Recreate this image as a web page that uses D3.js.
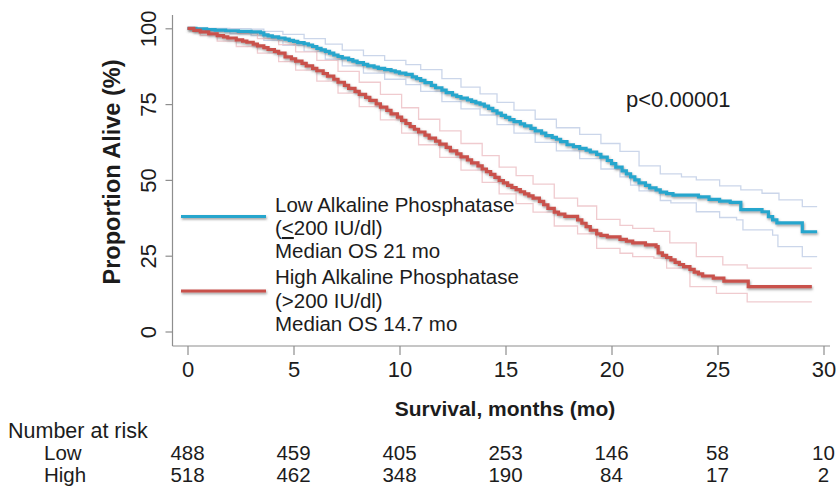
<!DOCTYPE html>
<html>
<head>
<meta charset="utf-8">
<script src="https://cdn.jsdelivr.net/npm/d3@7"></script>
<style>
    body { margin: 0; background: #fff; }
    svg { display: block; font-family: "Liberation Sans", Arial, sans-serif; }
</style>
</head>
<body>
<svg id="chart" width="840" height="492"></svg>
<script>
// Kaplan-Meier estimates (months, % alive)
const lowTime = [0, 0.4, 0.9, 1.3, 1.8, 2.4, 3.0, 3.45, 3.6, 3.8, 4.0, 4.3, 4.6, 4.8, 5.0, 5.2, 5.5, 5.7, 5.9, 6.1, 6.3, 6.5, 6.7, 6.9, 7.1, 7.3, 7.6, 7.8, 8.0, 8.3, 8.5, 8.8, 9.0, 9.3, 9.6, 9.8, 10.0, 10.3, 10.6, 10.8, 11.0, 11.2, 11.5, 11.7, 12.0, 12.2, 12.5, 12.7, 12.9, 13.2, 13.4, 13.6, 13.8, 14.0, 14.2, 14.4, 14.6, 14.8, 15.0, 15.2, 15.4, 15.7, 15.9, 16.2, 16.4, 16.7, 16.9, 17.2, 17.4, 17.6, 17.9, 18.2, 18.5, 18.8, 19.0, 19.3, 19.5, 19.8, 20.0, 20.2, 20.5, 20.7, 20.9, 21.1, 21.3, 21.6, 21.8, 22.1, 22.3, 22.6, 22.9, 24.1, 24.6, 25.1, 25.6, 26.1, 27.1, 27.4, 27.6, 27.8, 29.0, 29.7];
const lowSurv = [100, 99.8, 99.6, 99.4, 99.2, 99.0, 98.8, 98.5, 97.8, 97.5, 97.2, 96.8, 96.4, 96.0, 95.7, 95.3, 94.9, 94.5, 94.0, 93.4, 92.9, 92.4, 91.8, 91.2, 90.7, 90.2, 89.7, 89.2, 88.7, 88.1, 87.6, 87.2, 86.8, 86.4, 86.0, 85.6, 85.2, 84.8, 84.0, 83.4, 82.8, 82.1, 81.2, 80.4, 79.6, 78.8, 78.0, 77.5, 77.0, 76.4, 75.9, 75.4, 75.0, 74.3, 73.6, 72.8, 72.0, 71.3, 70.6, 69.9, 69.2, 68.5, 67.8, 67.0, 66.2, 65.4, 64.6, 64.0, 63.4, 62.6, 61.6, 61.0, 60.4, 59.8, 59.2, 58.4, 57.5, 56.4, 55.4, 54.2, 53.0, 52.0, 51.0, 50.0, 49.0, 48.2, 47.4, 46.7, 46.0, 45.5, 45.0, 44.4, 43.6, 43.0, 42.6, 40.2, 39.5, 37.9, 36.8, 35.8, 32.9, 32.9];

const lowUpperTime = [0, 1, 2, 3, 3.6, 4.5, 5.5, 6.5, 7.3, 8.3, 9.3, 10.3, 11.0, 12.0, 12.9, 13.8, 14.6, 15.4, 16.4, 17.4, 18.5, 19.5, 20.4, 21.3, 22.3, 23.3, 24.0, 25.1, 26.1, 27.1, 27.9, 29.0, 29.7];
const lowUpper = [100, 100, 99.9, 99.7, 99.0, 98.0, 96.6, 94.8, 92.8, 91.0, 89.4, 88.0, 86.4, 83.4, 80.6, 78.4, 75.6, 73.0, 70.0, 67.2, 65.0, 62.0, 59.4, 54.6, 52.0, 51.0, 50.0, 48.0, 46.7, 45.6, 43.4, 41.2, 41.2];
const lowLowerTime = [0, 1, 2, 3, 3.6, 4.5, 5.5, 6.5, 7.3, 8.3, 9.3, 10.3, 11.0, 12.0, 12.9, 13.8, 14.6, 15.4, 16.4, 17.4, 18.5, 19.5, 20.4, 20.9, 21.3, 22.3, 22.8, 24.0, 25.1, 25.9, 26.2, 27.6, 27.85, 29.0, 29.7];
const lowLower = [100, 99.0, 98.2, 97.6, 96.0, 94.4, 92.4, 89.8, 87.6, 85.2, 83.2, 81.4, 79.2, 75.8, 73.4, 71.4, 68.2, 65.4, 62.4, 59.6, 57.0, 53.6, 51.0, 48.3, 46.4, 43.2, 42.4, 39.5, 37.6, 36.8, 33.5, 31.8, 28.0, 24.7, 24.7];

const highTime = [0, 0.3, 0.6, 1.0, 1.4, 1.7, 1.9, 2.3, 2.6, 2.8, 3.1, 3.3, 3.6, 3.8, 4.1, 4.3, 4.6, 4.9, 5.1, 5.4, 5.6, 5.9, 6.1, 6.4, 6.6, 6.9, 7.1, 7.4, 7.6, 7.9, 8.1, 8.4, 8.6, 8.9, 9.1, 9.4, 9.6, 9.9, 10.1, 10.3, 10.5, 10.7, 10.9, 11.2, 11.4, 11.7, 11.9, 12.2, 12.4, 12.7, 12.9, 13.2, 13.4, 13.7, 13.9, 14.1, 14.3, 14.5, 14.7, 14.9, 15.1, 15.3, 15.5, 15.7, 15.9, 16.1, 16.3, 16.6, 16.8, 17.0, 17.3, 17.5, 17.8, 18.4, 18.6, 18.8, 19.0, 19.3, 19.5, 19.8, 20.4, 20.7, 21.0, 21.6, 22.1, 22.2, 22.4, 22.6, 22.8, 23.0, 23.2, 23.4, 23.7, 23.9, 24.1, 24.3, 24.8, 25.3, 26.45, 29.45];
const highSurv = [100, 99.3, 98.8, 98.2, 97.6, 97.2, 96.8, 96.2, 95.8, 95.4, 94.8, 94.2, 93.6, 93.0, 92.4, 91.8, 90.6, 89.9, 89.2, 88.4, 87.6, 86.8, 86.0, 85.1, 84.2, 83.2, 82.2, 81.2, 80.2, 79.2, 78.2, 77.2, 76.2, 75.1, 74.0, 72.9, 71.8, 70.7, 69.6, 68.6, 67.6, 66.7, 65.8, 64.8, 63.8, 62.8, 61.8, 60.7, 59.6, 58.6, 57.6, 56.6, 55.6, 54.6, 53.6, 52.7, 51.8, 50.8, 49.8, 49.0, 48.2, 47.5, 46.8, 46.1, 45.4, 44.7, 44.0, 42.9, 41.8, 40.6, 39.4, 38.7, 38.0, 36.8, 35.7, 34.6, 33.4, 32.2, 31.7, 31.2, 30.4, 29.8, 29.2, 28.6, 28.0, 25.9, 25.1, 24.4, 23.6, 22.8, 22.1, 21.4, 20.5, 19.6, 19.0, 18.3, 17.6, 16.6, 14.8, 14.8];

const highUpperTime = [0, 0.6, 1.4, 2.3, 3.3, 4.3, 5.1, 6.1, 7.1, 8.1, 9.1, 10.1, 10.9, 11.9, 12.9, 13.9, 14.7, 15.5, 16.3, 17.3, 18.4, 19.3, 20.4, 21.0, 22.0, 22.75, 24.0, 25.25, 26.4, 29.45];
const highUpper = [100, 99.9, 99.4, 98.4, 96.6, 94.6, 92.2, 89.4, 85.8, 82.2, 78.2, 73.8, 70.0, 66.2, 62.0, 58.0, 54.2, 51.4, 48.6, 44.0, 41.4, 37.0, 35.0, 34.0, 33.0, 29.2, 24.7, 22.0, 20.9, 20.9];
const highLowerTime = [0, 0.6, 1.4, 2.3, 3.3, 4.3, 5.1, 6.1, 7.1, 8.1, 9.1, 10.1, 10.9, 11.9, 12.9, 13.9, 14.7, 15.5, 16.3, 17.3, 18.4, 19.3, 20.4, 21.0, 22.0, 22.6, 23.7, 24.95, 26.4, 29.45];
const highLower = [100, 97.6, 95.8, 94.0, 91.8, 89.0, 86.2, 82.6, 78.6, 74.2, 69.8, 65.4, 61.6, 57.4, 53.2, 49.2, 45.4, 42.2, 39.4, 34.8, 32.2, 27.4, 25.8, 24.7, 24.2, 20.9, 14.8, 12.6, 9.8, 9.8];

const riskTimes = [0, 5, 10, 15, 20, 25, 30];
const riskLow = [488, 459, 405, 253, 146, 58, 10];
const riskHigh = [518, 462, 348, 190, 84, 17, 2];

const xTicks = [0, 5, 10, 15, 20, 25, 30];
const yTicks = [0, 25, 50, 75, 100];

const blue = "#28a6cd";
const red = "#c9514c";
const blueCI = "#cbd6ea";
const redCI = "#f0cbcf";
const axisGrey = "#8e8e8e";
const ink = "#1c1c1c";

const svg = d3.select("#chart");

const x = d3.scaleLinear().domain([0, 30]).range([187.5, 823.5]);
const y = d3.scaleLinear().domain([0, 100]).range([331.5, 28.3]);

const axisX0 = 172.5;   // left frame line
const axisY0 = 346;     // bottom frame line

const defs = svg.append("defs");
defs.append("filter")
    .attr("id", "shadow")
    .attr("filterUnits", "userSpaceOnUse")
    .attr("x", 0).attr("y", 0)
    .attr("width", 840).attr("height", 492)
    .append("feDropShadow")
    .attr("dx", 0.8).attr("dy", 1.6)
    .attr("stdDeviation", 0.9)
    .attr("flood-color", "#555")
    .attr("flood-opacity", 0.55);

// frame lines
svg.append("line")
    .attr("x1", axisX0).attr("x2", axisX0)
    .attr("y1", 15).attr("y2", axisY0)
    .attr("stroke", axisGrey).attr("stroke-width", 1.2);
svg.append("line")
    .attr("x1", axisX0).attr("x2", 830)
    .attr("y1", axisY0).attr("y2", axisY0)
    .attr("stroke", axisGrey).attr("stroke-width", 1.2);

// y axis
const gy = svg.append("g")
    .attr("transform", `translate(${axisX0},0)`)
    .call(d3.axisLeft(y).tickValues(yTicks).tickSize(7).tickFormat(d3.format("d")));
gy.select(".domain").remove();
gy.selectAll(".tick line").attr("stroke", axisGrey).attr("stroke-width", 1.2);
gy.selectAll(".tick text")
    .attr("x", null).attr("dy", null)
    .attr("transform", "translate(-17,0) rotate(-90)")
    .attr("text-anchor", "middle")
    .attr("fill", ink)
    .style("font-size", "22px")
    .style("font-family", "Liberation Sans, Arial, sans-serif");

// x axis
const gx = svg.append("g")
    .attr("transform", `translate(0,${axisY0})`)
    .call(d3.axisBottom(x).tickValues(xTicks).tickSize(9).tickFormat(d3.format("d")));
gx.select(".domain").remove();
gx.selectAll(".tick line").attr("stroke", axisGrey).attr("stroke-width", 1.2);
gx.selectAll(".tick text")
    .attr("y", 31).attr("dy", null)
    .attr("fill", ink)
    .style("font-size", "22px")
    .style("font-family", "Liberation Sans, Arial, sans-serif");

// axis titles
svg.append("text")
    .attr("x", 505).attr("y", 416)
    .attr("text-anchor", "middle")
    .attr("font-weight", "bold")
    .attr("font-size", 21)
    .attr("fill", ink)
    .text("Survival, months (mo)");

svg.append("text")
    .attr("transform", "translate(120,172) rotate(-90)")
    .attr("text-anchor", "middle")
    .attr("font-weight", "bold")
    .attr("font-size", 23.5)
    .attr("fill", ink)
    .text("Proportion Alive (%)");

// curves
const stepLine = d3.line()
    .x(d => x(d[0]))
    .y(d => y(d[1]))
    .curve(d3.curveStepAfter);

const zip = (t, v) => t.map((d, i) => [d, v[i]]);

const ciLines = [
    [zip(lowUpperTime, lowUpper), blueCI],
    [zip(lowLowerTime, lowLower), blueCI],
    [zip(highUpperTime, highUpper), redCI],
    [zip(highLowerTime, highLower), redCI]
];
svg.append("g").selectAll("path")
    .data(ciLines)
    .join("path")
    .attr("d", d => stepLine(d[0]))
    .attr("fill", "none")
    .attr("stroke", d => d[1])
    .attr("stroke-width", 1.3);

const mainLines = [
    [zip(lowTime, lowSurv), blue],
    [zip(highTime, highSurv), red]
];
svg.append("g").selectAll("path")
    .data(mainLines)
    .join("path")
    .attr("d", d => stepLine(d[0]))
    .attr("fill", "none")
    .attr("stroke", d => d[1])
    .attr("stroke-width", 3.2)
    .attr("filter", "url(#shadow)");

// legend
const legend = svg.append("g").attr("font-size", 20.5).attr("fill", ink);
[[216.5, blue], [291, red]].forEach(([ly, c]) => {
    legend.append("line")
        .attr("x1", 181).attr("x2", 266)
        .attr("y1", ly).attr("y2", ly)
        .attr("stroke", c).attr("stroke-width", 3.2)
        .attr("filter", "url(#shadow)");
});
legend.append("text").attr("x", 275).attr("y", 212).text("Low Alkaline Phosphatase");
const lowRange = legend.append("text").attr("x", 275).attr("y", 235);
lowRange.append("tspan").text("(");
lowRange.append("tspan").attr("text-decoration", "underline").text("<");
lowRange.append("tspan").text("200 IU/dl)");
legend.append("text").attr("x", 275).attr("y", 258).text("Median OS 21 mo");
legend.append("text").attr("x", 275).attr("y", 284).text("High Alkaline Phosphatase");
legend.append("text").attr("x", 275).attr("y", 308).text("(>200 IU/dl)");
legend.append("text").attr("x", 275).attr("y", 331).text("Median OS 14.7 mo");

svg.append("text")
    .attr("x", 626).attr("y", 107)
    .attr("font-size", 22)
    .attr("fill", ink)
    .text("p<0.00001");

// number at risk table
svg.append("text")
    .attr("x", 8).attr("y", 438)
    .attr("font-size", 21.5).attr("fill", ink)
    .text("Number at risk");

const rows = [["Low", riskLow, 460], ["High", riskHigh, 482]];
rows.forEach(([label, counts, ry]) => {
    svg.append("text")
        .attr("x", 44).attr("y", ry)
        .attr("font-size", 20.5).attr("fill", ink)
        .text(label);
    svg.append("g").selectAll("text")
        .data(counts)
        .join("text")
        .attr("x", (d, i) => x(riskTimes[i]))
        .attr("y", ry)
        .attr("text-anchor", "middle")
        .attr("font-size", 20.5)
        .attr("fill", ink)
        .text(d => d);
});
</script>
</body>
</html>
